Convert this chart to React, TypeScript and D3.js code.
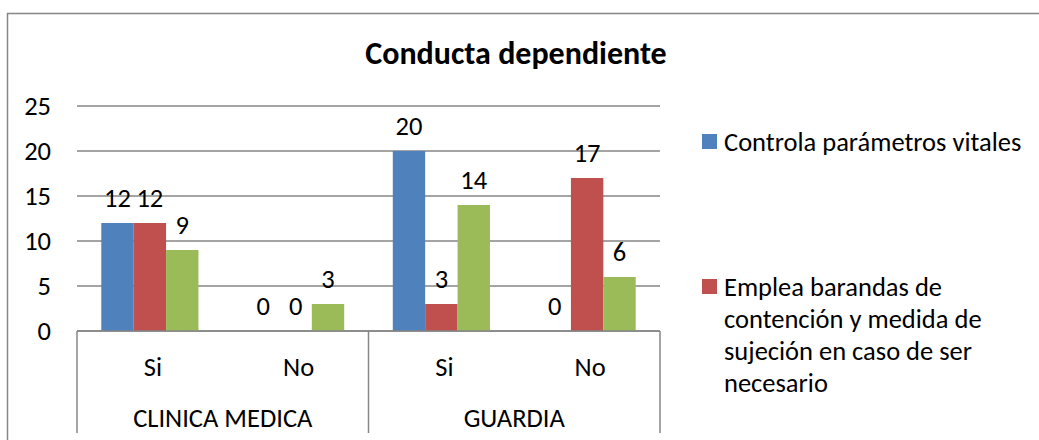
import React from 'react';
import * as d3 from 'd3';

const title = 'Conducta dependiente';
const groups = ['CLINICA MEDICA', 'GUARDIA'];
const categories = ['Si', 'No', 'Si', 'No'];
const categoryGroup = [0, 0, 1, 1];
const seriesNames = ['Controla parámetros vitales', 'Emplea barandas de contención y medida de sujeción en caso de ser necesario', 'Serie 3'];
const legendLines = [
  ['Controla parámetros vitales'],
  ['Emplea barandas de', 'contención y medida de', 'sujeción en caso de ser', 'necesario'],
];
const seriesA = [12, 0, 20, 0];
const seriesB = [12, 0, 3, 17];
const seriesC = [9, 3, 14, 6];
const yTicks = [0, 5, 10, 15, 20, 25];

const series = [seriesA, seriesB, seriesC];
const colors = ['#4F81BD', '#C0504D', '#9BBB59'];
const FONT = 'Carlito, Calibri, Lato, sans-serif';
const FS = 26.5;

export default function App() {
  const W = 1039, H = 440;
  const left = 77, right = 660, top = 106, bottom = 331;
  const y = d3.scaleLinear().domain([0, 25]).range([bottom, top]);
  const x = d3.scaleBand<number>().domain(d3.range(categories.length)).range([left, right]).padding(0);
  const xs = d3.scaleBand<number>().domain(d3.range(series.length)).range([0, x.bandwidth()]).paddingInner(0).paddingOuter(0.75);
  const grid = '#868686';
  const axisBottom = 433;
  const groupBounds = groups.map((g, gi) => {
    const idx = categories.map((_, i) => i).filter(i => categoryGroup[i] === gi);
    const x0 = x(idx[0])!;
    const x1 = x(idx[idx.length - 1])! + x.bandwidth();
    return { g, x0, x1 };
  });
  return (
    <svg width={W} height={H} style={{ position: 'absolute', left: 0, top: 0, background: '#fff' }} fontFamily={FONT}>
      <rect x={0} y={0} width={W} height={H} fill="#fff" />
      <rect x={7.5} y={13.5} width={W + 10} height={H + 10} fill="none" stroke={grid} strokeWidth={1.5} />
      <text x={516} y={53} dy="0.35em" textAnchor="middle" fontSize={32} fontWeight="bold" fill="#000">{title}</text>
      {yTicks.map(t => (
        <g key={t}>
          <line x1={left} x2={right} y1={y(t)} y2={y(t)} stroke={grid} strokeWidth={1.5} />
          <text x={51} y={y(t)} dy="0.35em" textAnchor="end" fontSize={FS} fill="#000">{t}</text>
        </g>
      ))}
      {series.map((s, si) => s.map((v, ci) => {
        const bx = x(ci)! + xs(si)!;
        return (
          <g key={`${si}-${ci}`}>
            <rect x={bx} y={y(v)} width={xs.bandwidth()} height={y(0) - y(v)} fill={colors[si]} />
            <text x={bx + xs.bandwidth() / 2} y={y(v) - 25} dy="0.35em" textAnchor="middle" fontSize={FS} fill="#000">{v}</text>
          </g>
        );
      }))}
      <line x1={left} x2={right} y1={bottom} y2={bottom} stroke={grid} strokeWidth={1.5} />
      {groupBounds.map((b, i) => (
        <g key={b.g}>
          <line x1={b.x0} x2={b.x0} y1={bottom} y2={axisBottom} stroke={grid} strokeWidth={1.5} />
          {i === groupBounds.length - 1 && <line x1={b.x1} x2={b.x1} y1={bottom} y2={axisBottom} stroke={grid} strokeWidth={1.5} />}
          <text x={(b.x0 + b.x1) / 2} y={418} dy="0.35em" textAnchor="middle" fontSize={FS} fill="#000">{b.g}</text>
        </g>
      ))}
      {categories.map((c, i) => (
        <text key={i} x={x(i)! + x.bandwidth() / 2 + 3} y={367} dy="0.35em" textAnchor="middle" fontSize={FS} fill="#000">{c}</text>
      ))}
      {legendLines.map((lines, li) => {
        const ly = li === 0 ? 142 : 287;
        return (
          <g key={li}>
            <rect x={702} y={ly - 8} width={15} height={15} fill={colors[li]} />
            {lines.map((ln, k) => (
              <text key={k} x={724} y={ly + k * 32} dy="0.35em" fontSize={FS} fill="#000">{ln}</text>
            ))}
          </g>
        );
      })}
    </svg>
  );
}
